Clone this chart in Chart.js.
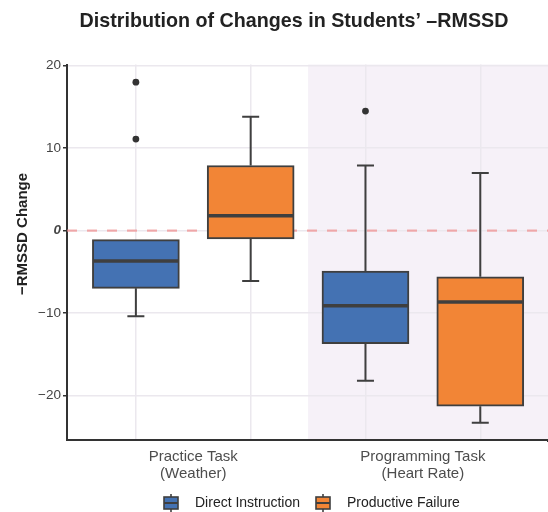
<!DOCTYPE html>
<html>
<head>
<meta charset="utf-8">
<script src="https://cdn.jsdelivr.net/npm/chart.js@4.4.1/dist/chart.umd.min.js"></script>
<style>
  html, body { margin: 0; padding: 0; background: #ffffff; overflow: hidden; }
  #wrap { width: 548px; height: 512px; overflow: hidden; }
</style>
</head>
<body>
<div id="wrap"><canvas id="c" width="552" height="512"></canvas></div>
<script>
// ---------- data ----------
const categories = [['Practice Task', '(Weather)'], ['Programming Task', '(Heart Rate)']];
const groups = ['Direct Instruction', 'Productive Failure'];

const diWhiskerLow  = [-10.4, -18.2];
const diQ1          = [-7.0, -13.7];
const diMedian      = [-3.7, -9.1];
const diQ3          = [-1.1, -4.9];
const diWhiskerHigh = [-1.1, 7.9];
const diOutliers    = [[18.0, 11.1], [14.5]];

const pfWhiskerLow  = [-6.1, -23.3];
const pfQ1          = [-1.0, -21.3];
const pfMedian      = [1.8, -8.65];
const pfQ3          = [7.9, -5.6];
const pfWhiskerHigh = [13.8, 7.0];
const pfOutliers    = [[], []];

const yTicks = [-20, -10, 0, 10, 20];
const referenceValue = 0;

// ---------- styles ----------
const FONT = '"Liberation Sans", Arial, Helvetica, sans-serif';
const groupColors = ['#4472B3', '#F28536'];
const groupOffsets = [-0.25, 0.25];
const BOX_PX = 87;
const CAP_PX = 17;
const LINE_COLOR = '#3F3F3F';

const stats = [
  { low: diWhiskerLow, q1: diQ1, med: diMedian, q3: diQ3, high: diWhiskerHigh, out: diOutliers },
  { low: pfWhiskerLow, q1: pfQ1, med: pfMedian, q3: pfQ3, high: pfWhiskerHigh, out: pfOutliers }
];

const datasets = [];
stats.forEach((s, g) => {
  datasets.push({
    type: 'bar',
    label: groups[g],
    boxStats: s,
    groupIndex: g,
    data: categories.map((c, i) => ({ x: i + groupOffsets[g], y: [s.q1[i], s.q3[i]] })),
    grouped: false,
    barThickness: BOX_PX,
    backgroundColor: groupColors[g],
    borderColor: LINE_COLOR,
    borderWidth: 2,
    borderSkipped: false,
    order: 2
  });
});
stats.forEach((s, g) => {
  const pts = [];
  s.out.forEach((arr, i) => arr.forEach(v => pts.push({ x: i + groupOffsets[g], y: v })));
  datasets.push({
    type: 'scatter',
    label: groups[g] + ' outliers',
    data: pts,
    pointRadius: 3.4,
    pointBackgroundColor: '#333333',
    pointBorderWidth: 0,
    order: 1
  });
});

const boxPlugin = {
  id: 'boxPlugin',
  beforeDraw(chart) {
    const { ctx, chartArea: a, scales: { x } } = chart;
    ctx.save();
    ctx.fillStyle = '#ffffff';
    ctx.fillRect(0, 0, chart.width, chart.height);
    const xMid = x.getPixelForValue(0.5);
    ctx.fillStyle = '#F6F1F8';
    ctx.fillRect(xMid, a.top, chart.width - xMid, a.bottom - a.top);
    ctx.restore();
  },
  beforeDatasetsDraw(chart) {
    const { ctx, chartArea: a, scales: { x, y } } = chart;
    ctx.save();
    const y0 = y.getPixelForValue(referenceValue);
    ctx.strokeStyle = 'rgba(240,140,140,0.7)';
    ctx.lineWidth = 2.2;
    ctx.setLineDash([10, 10]);
    ctx.beginPath();
    ctx.moveTo(a.left, y0);
    ctx.lineTo(chart.width, y0);
    ctx.stroke();
    ctx.setLineDash([]);
    ctx.strokeStyle = LINE_COLOR;
    ctx.lineWidth = 2;
    chart.data.datasets.forEach(ds => {
      if (!ds.boxStats) return;
      const s = ds.boxStats;
      categories.forEach((c, i) => {
        const px = x.getPixelForValue(i + groupOffsets[ds.groupIndex]);
        const segs = [[s.q1[i], s.low[i]], [s.q3[i], s.high[i]]];
        segs.forEach(([from, to]) => {
          if (from === to) return;
          const pf = y.getPixelForValue(from), pt = y.getPixelForValue(to);
          ctx.beginPath();
          ctx.moveTo(px, pf);
          ctx.lineTo(px, pt);
          ctx.moveTo(px - CAP_PX / 2, pt);
          ctx.lineTo(px + CAP_PX / 2, pt);
          ctx.stroke();
        });
      });
    });
    ctx.restore();
  },
  afterDatasetsDraw(chart) {
    const { ctx, scales: { x, y } } = chart;
    ctx.save();
    ctx.strokeStyle = LINE_COLOR;
    ctx.lineWidth = 3.5;
    chart.data.datasets.forEach(ds => {
      if (!ds.boxStats) return;
      const s = ds.boxStats;
      categories.forEach((c, i) => {
        const px = x.getPixelForValue(i + groupOffsets[ds.groupIndex]);
        const pm = y.getPixelForValue(s.med[i]);
        ctx.beginPath();
        ctx.moveTo(px - BOX_PX / 2 + 1, pm);
        ctx.lineTo(px + BOX_PX / 2 - 1, pm);
        ctx.stroke();
      });
    });
    ctx.restore();
  },
  afterDraw(chart) {
    const { ctx, chartArea: a } = chart;
    ctx.save();
    ctx.strokeStyle = '#333333';
    ctx.lineWidth = 2;
    ctx.beginPath();
    ctx.moveTo(a.right - 1, a.bottom + 1);
    ctx.lineTo(chart.width, a.bottom + 1);
    ctx.stroke();
    ctx.fillStyle = '#222222';
    ctx.font = 'bold 19.7px ' + FONT;
    ctx.textAlign = 'center';
    ctx.textBaseline = 'alphabetic';
    ctx.fillText('Distribution of Changes in Students\u2019 \u2013RMSSD', 294, 27);
    ctx.save();
    ctx.translate(23, 234);
    ctx.rotate(-Math.PI / 2);
    ctx.font = 'bold 15px ' + FONT;
    ctx.textBaseline = 'middle';
    ctx.fillText('\u2212RMSSD Change', 0, 0);
    ctx.restore();
    const legendX = [164, 316];
    const cy = 503;
    groups.forEach((g, k) => {
      const lx = legendX[k];
      ctx.strokeStyle = LINE_COLOR;
      ctx.lineWidth = 1.6;
      ctx.beginPath();
      ctx.moveTo(lx + 7, cy - 9);
      ctx.lineTo(lx + 7, cy + 9);
      ctx.stroke();
      ctx.fillStyle = groupColors[k];
      ctx.fillRect(lx, cy - 6, 14, 12);
      ctx.strokeRect(lx, cy - 6, 14, 12);
      ctx.lineWidth = 2;
      ctx.beginPath();
      ctx.moveTo(lx, cy);
      ctx.lineTo(lx + 14, cy);
      ctx.stroke();
      ctx.fillStyle = '#222222';
      ctx.font = '14px ' + FONT;
      ctx.textAlign = 'left';
      ctx.textBaseline = 'middle';
      ctx.fillText(g, lx + 31, cy);
    });
    ctx.restore();
  }
};

const xTickValues = [-0.25, 0, 0.25, 0.75, 1, 1.25];

new Chart(document.getElementById('c'), {
  data: { datasets },
  options: {
    responsive: false,
    animation: false,
    layout: { padding: { top: 64.5, right: 0, bottom: 0, left: 0 } },
    plugins: { legend: { display: false }, tooltip: { enabled: false }, title: { display: false } },
    scales: {
      x: {
        type: 'linear',
        offset: false,
        min: -0.55,
        max: 1.545,
        afterBuildTicks: (scale) => { scale.ticks = xTickValues.map(v => ({ value: v })); },
        afterFit: (scale) => { scale.height = 72; },
        grid: {
          offset: false,
          color: (ctx) => (ctx.tick && Number.isInteger(ctx.tick.value)) ? 'rgba(0,0,0,0)' : '#EBE8EE',
          lineWidth: 1.5,
          drawTicks: false
        },
        border: { display: true, color: '#333333', width: 2 },
        ticks: {
          autoSkip: false,
          maxRotation: 0,
          padding: 9,
          color: '#4D4D4D',
          font: { family: FONT, size: 15, lineHeight: 1.1 },
          callback: (v) => Number.isInteger(v) ? categories[v] : ''
        }
      },
      y: {
        type: 'linear',
        min: -25.4,
        max: 20.15,
        afterBuildTicks: (scale) => { scale.ticks = yTicks.map(v => ({ value: v })); },
        afterFit: (scale) => { scale.width = 67; },
        grid: { color: '#EBE8EE', lineWidth: 1.5, tickLength: 4, tickColor: '#333333', tickWidth: 1.5 },
        border: { display: true, color: '#333333', width: 2 },
        ticks: {
          padding: 2,
          color: '#444444',
          font: (ctx) => (ctx.tick && ctx.tick.value === 0)
            ? { family: FONT, size: 13.5, style: 'italic', weight: 'bold' }
            : { family: FONT, size: 13.5 },
          callback: (v) => v < 0 ? '\u2212' + Math.abs(v) : String(v)
        }
      }
    }
  },
  plugins: [boxPlugin]
});
</script>
</body>
</html>
